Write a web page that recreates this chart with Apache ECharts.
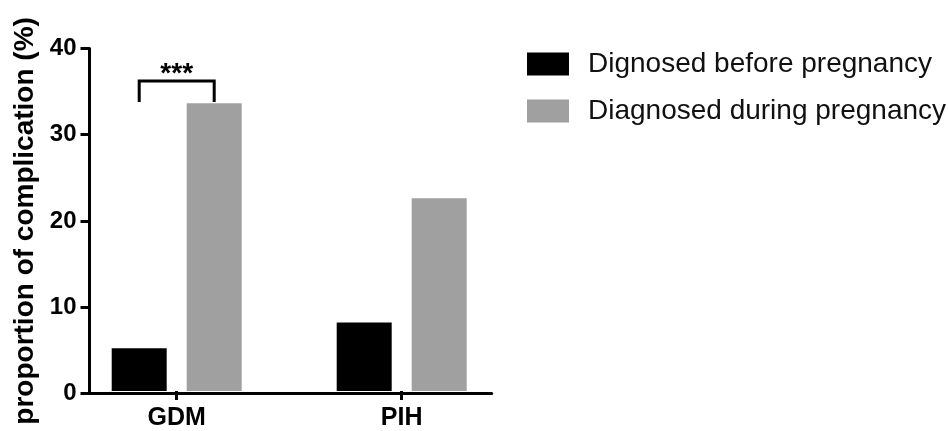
<!DOCTYPE html>
<html>
<head>
<meta charset="utf-8">
<script src="https://cdn.jsdelivr.net/npm/echarts@6/dist/echarts.min.js"></script>
<style>
html,body{margin:0;padding:0;background:#fff;}
#chart{width:949px;height:431px;}
</style>
</head>
<body>
<div id="chart"></div>
<script>
// ---- data ----
const categories = ['GDM', 'PIH'];
const seriesNames = ['Dignosed before pregnancy', 'Diagnosed during pregnancy'];
const beforeValues = [5.0, 8.0];
const duringValues = [33.6, 22.5];
const yTicks = { min: 0, max: 40, interval: 10 };
const yAxisTitle = 'proportion of complication (%)';
// significance bracket: [category, bracket top value, leg bottom value, label]
const sigBrackets = [['GDM', 36.2, 33.75, '***']];

// ---- style constants ----
const FONT = 'Arial, "Liberation Sans", Helvetica, sans-serif';
const BAR_W = 55, BAR_GAP = 20;
const GRAY = '#a0a0a0';
const AX = { color: '#000', width: 3 };

const chart = echarts.init(document.getElementById('chart'), null, { renderer: 'canvas' });

const option = {
  animation: false,
  backgroundColor: '#fff',
  textStyle: { fontFamily: FONT },
  grid: [
    { left: 64.2, right: 434.8, top: 48.5, bottom: 37.7 },   // bars
    { left: 89.5, right: 457.3, top: 48.5, bottom: 37.7 }    // axis frame
  ],
  legend: {
    orient: 'vertical',
    left: 522, top: 45,
    itemWidth: 42, itemHeight: 23, itemGap: 19,
    icon: 'rect',
    data: seriesNames,
    textStyle: { fontFamily: FONT, fontSize: 28, color: '#111', lineHeight: 23, padding: [0, 0, 0, 14] }
  },
  xAxis: [
    {
      type: 'category', gridIndex: 0, data: categories,
      axisLine: { show: false },
      axisTick: { show: true, alignWithLabel: true, length: 9, lineStyle: AX },
      axisLabel: { fontFamily: FONT, fontSize: 25, fontWeight: 'bold', color: '#000', margin: 15 },
      splitLine: { show: false }
    },
    {
      type: 'value', gridIndex: 1, min: 0, max: 1,
      axisLine: { show: true, lineStyle: AX },
      axisTick: { show: false }, axisLabel: { show: false }, splitLine: { show: false }
    }
  ],
  yAxis: [
    { type: 'value', gridIndex: 0, min: yTicks.min, max: yTicks.max, show: false },
    {
      type: 'value', gridIndex: 1, min: yTicks.min, max: yTicks.max, interval: yTicks.interval,
      axisLine: { show: true, lineStyle: AX },
      axisTick: { show: true, length: 9, lineStyle: AX },
      axisLabel: { fontFamily: FONT, fontSize: 24, fontWeight: 'bold', color: '#000', margin: 13 },
      splitLine: { show: false },
      name: yAxisTitle, nameLocation: 'middle', nameGap: 50,
      nameTextStyle: { fontFamily: FONT, fontSize: 28, fontWeight: 'bold', color: '#000' }
    }
  ],
  series: [
    {
      name: seriesNames[0], type: 'bar', xAxisIndex: 0, yAxisIndex: 0,
      data: beforeValues, barWidth: BAR_W, barGap: (BAR_GAP / BAR_W * 100) + '%',
      itemStyle: { color: '#000' }
    },
    {
      name: seriesNames[1], type: 'bar', xAxisIndex: 0, yAxisIndex: 0,
      data: duringValues, barWidth: BAR_W,
      itemStyle: { color: GRAY }
    },
    {
      type: 'custom', xAxisIndex: 0, yAxisIndex: 0, silent: true, z: 5,
      data: sigBrackets.map(d => [d[0], d[1], d[2]]),
      renderItem: function (params, api) {
        const top = api.coord([api.value(0), api.value(1)]);
        const legY = api.coord([api.value(0), api.value(2)])[1];
        const half = (BAR_W + BAR_GAP) / 2;
        const x1 = top[0] - half, x2 = top[0] + half;
        const label = sigBrackets[params.dataIndex][3];
        return {
          type: 'group',
          children: [
            {
              type: 'polyline',
              shape: { points: [[x1, legY], [x1, top[1]], [x2, top[1]], [x2, legY]] },
              style: { stroke: '#000', lineWidth: 3, fill: null, lineJoin: 'miter' }
            },
            {
              type: 'text',
              style: {
                text: label, x: top[0], y: top[1] - 7,
                align: 'center', verticalAlign: 'middle',
                fontSize: 28, fontWeight: 'bold', fontFamily: FONT, fill: '#000'
              }
            }
          ]
        };
      }
    }
  ]
};
chart.setOption(option);
</script>
</body>
</html>
